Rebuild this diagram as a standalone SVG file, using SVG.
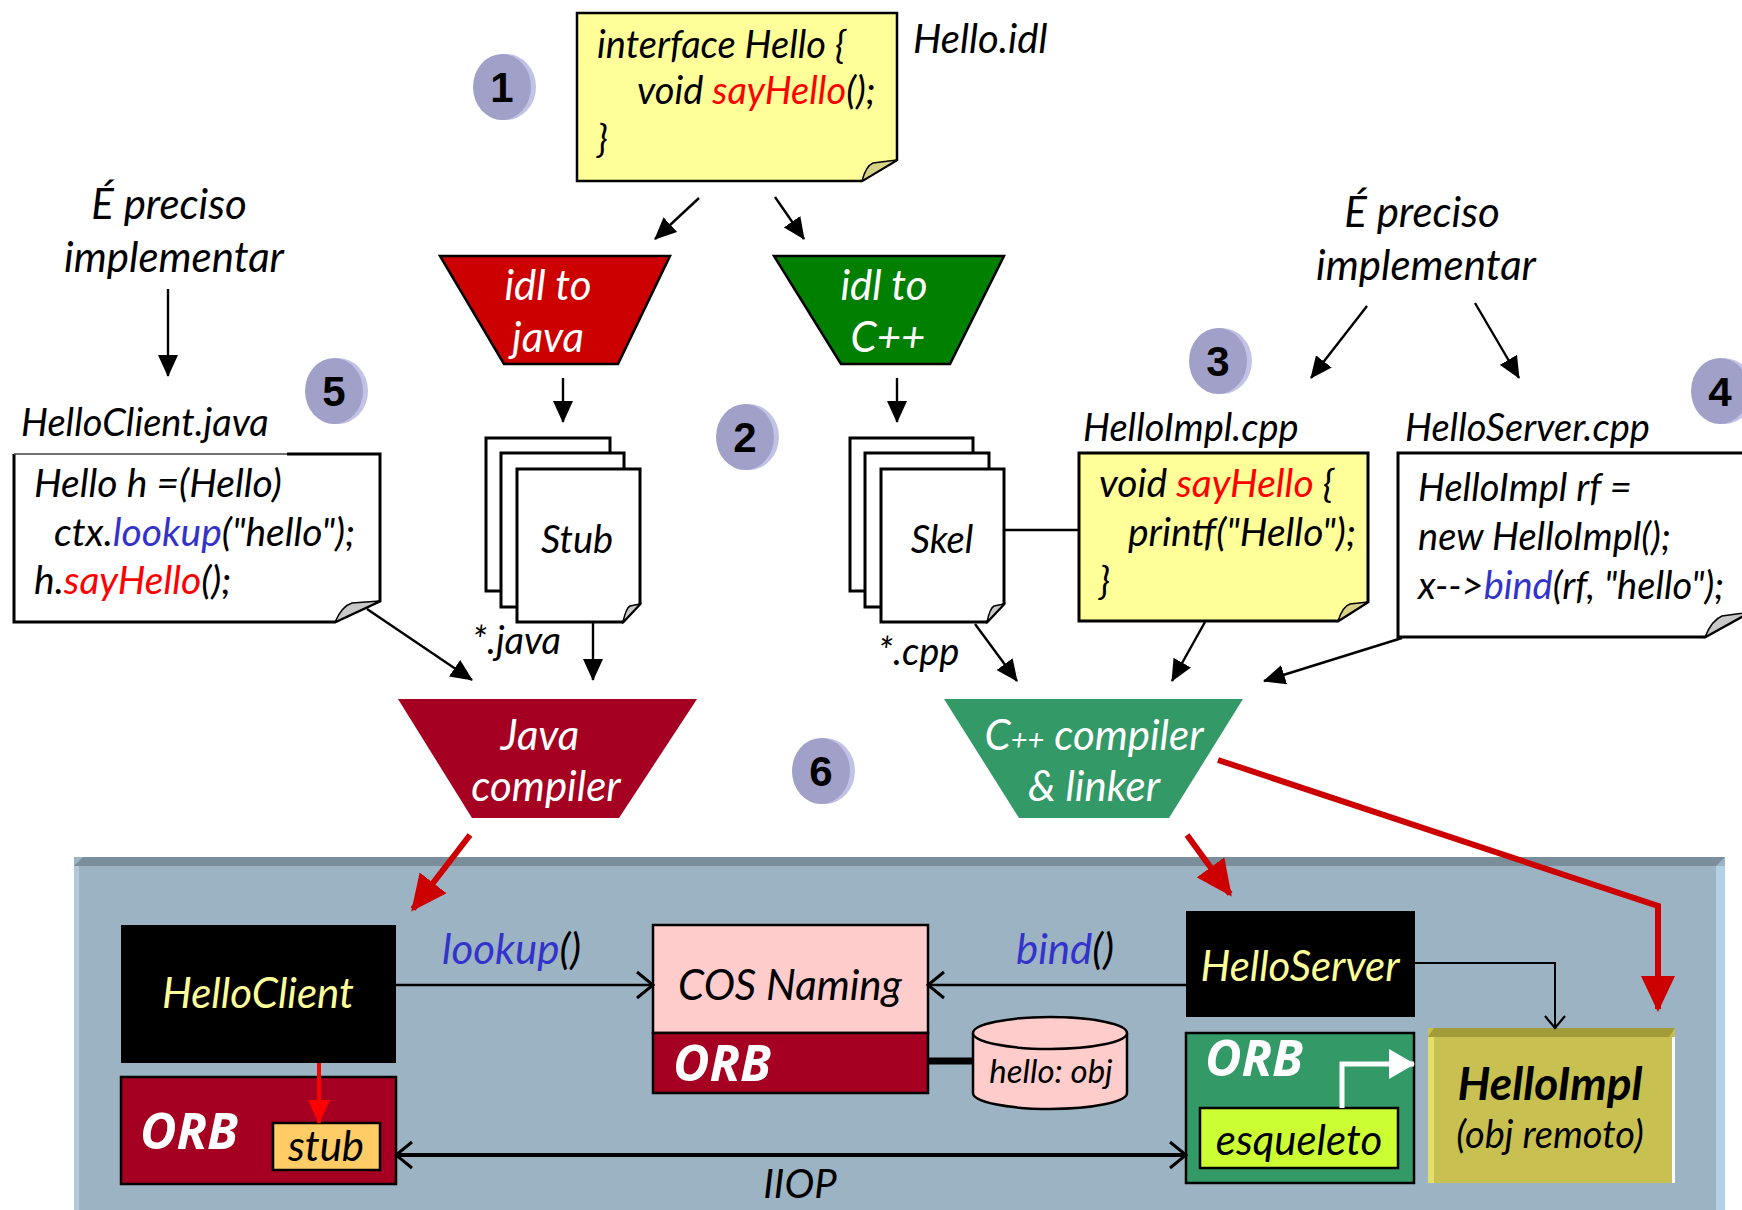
<svg xmlns="http://www.w3.org/2000/svg" width="1742" height="1210" viewBox="0 0 1742 1210">
<defs>
<style>
.t{font-family:Lato,"Open Sans","Liberation Sans",sans-serif;font-style:italic;font-size:38px;fill:#000}
.code{font-size:39px}
.lbl{font-size:38px}
.big{font-size:42px}
.mid{text-anchor:middle}
.w{fill:#fff}
.yl{fill:#ffff99}
.red{fill:#ff0000}
.blue{fill:#3333cc}
.orb{font-family:"Open Sans","DejaVu Sans",sans-serif;font-weight:bold;font-style:italic;font-size:50px;fill:#fff}
.num{font-family:"Liberation Sans",Arial,sans-serif;font-weight:bold;font-size:42px;fill:#000;text-anchor:middle}
.rim{fill:#c2c2e6}
.disc{fill:#a0a0c9}
.ln{stroke:#000;stroke-width:2.4;fill:none}
.rd{stroke:#cc0000;stroke-width:6;fill:none;stroke-linejoin:miter}
.page{fill:#fff;stroke:#000;stroke-width:3}
.fold{fill:#c8c8c8;stroke:#000;stroke-width:1.5}
.yfold{fill:#d8d286;stroke:#000;stroke-width:1.5}
</style>
<marker id="ah" markerUnits="userSpaceOnUse" viewBox="0 0 22 20" markerWidth="22" markerHeight="20" refX="21" refY="10" orient="auto"><path d="M0,0 L22,10 L0,20 Z" fill="#000"/></marker>
<marker id="oh" markerUnits="userSpaceOnUse" viewBox="-2 -2 20 30" markerWidth="20" markerHeight="30" refX="16" refY="13" orient="auto-start-reverse"><path d="M0,0 L16,13 L0,26" fill="none" stroke="#000" stroke-width="3"/></marker>
<marker id="oht" markerUnits="userSpaceOnUse" viewBox="-2 -2 16 24" markerWidth="16" markerHeight="24" refX="12" refY="10" orient="auto"><path d="M0,0 L12,10 L0,20" fill="none" stroke="#000" stroke-width="2.2"/></marker>
<marker id="rh" markerUnits="userSpaceOnUse" viewBox="0 0 36 34" markerWidth="36" markerHeight="34" refX="33" refY="17" orient="auto"><path d="M0,0 L36,17 L0,34 Z" fill="#cc0000"/></marker>
<marker id="rhs" markerUnits="userSpaceOnUse" viewBox="0 0 24 22" markerWidth="24" markerHeight="22" refX="23" refY="11" orient="auto"><path d="M0,0 L24,11 L0,22 Z" fill="#ff0000"/></marker>
<marker id="wh" markerUnits="userSpaceOnUse" viewBox="0 0 26 30" markerWidth="26" markerHeight="30" refX="25" refY="15" orient="auto"><path d="M0,0 L26,15 L0,30 Z" fill="#fff"/></marker>
</defs>

<rect width="1742" height="1210" fill="#fff"/>

<!-- runtime panel -->
<g id="runtime-panel">
<rect x="74" y="857" width="1651" height="353" fill="#9cb3c3"/>
<path d="M74,866 L83,857 H1725 L1716,866 Z" fill="#7b8e9b"/>
<rect x="74" y="866" width="5" height="344" fill="#b2c9d9"/>
<rect x="1716" y="866" width="9" height="344" fill="#b4d0e4"/>
</g>

<!-- IDL source -->
<g id="idl-note">
<path d="M577,13 H897 V160 L862,181 H577 Z" fill="#ffff99" stroke="#000" stroke-width="2.5"/>
<path d="M862,181 Q866,166 873,163 L897,160 Z" class="yfold"/>
<text class="t" x="597" y="58">interface Hello {</text>
<text class="t" x="637" y="104">void <tspan class="red">sayHello</tspan>();</text>
<text class="t" x="597" y="152">}</text>
<text class="t" x="913" y="53" style="font-size:40px">Hello.idl</text>
</g>

<!-- step badges -->
<g id="step1" transform="translate(502,87)"><ellipse class="rim" cx="4" rx="30" ry="33"/><ellipse class="disc" rx="29" ry="33"/><text class="num" y="15">1</text></g>
<g id="step2" transform="translate(745,437)"><ellipse class="rim" cx="4" rx="30" ry="33"/><ellipse class="disc" rx="29" ry="33"/><text class="num" y="15">2</text></g>
<g id="step3" transform="translate(1218,361)"><ellipse class="rim" cx="4" rx="30" ry="33"/><ellipse class="disc" rx="29" ry="33"/><text class="num" y="15">3</text></g>
<g id="step4" transform="translate(1720,391)"><ellipse class="rim" cx="4" rx="30" ry="33"/><ellipse class="disc" rx="29" ry="33"/><text class="num" y="15" style="font-family:'Liberation Mono',monospace">4</text></g>
<g id="step5" transform="translate(334,391)"><ellipse class="rim" cx="4" rx="30" ry="33"/><ellipse class="disc" rx="29" ry="33"/><text class="num" y="15">5</text></g>
<g id="step6" transform="translate(821,771)"><ellipse class="rim" cx="4" rx="30" ry="33"/><ellipse class="disc" rx="29" ry="33"/><text class="num" y="15">6</text></g>

<!-- IDL compilers -->
<g id="idl2java">
<path d="M440,256 H670 L618,364 H504 Z" fill="#cc0000" stroke="#000" stroke-width="2.5"/>
<text class="t big w mid" x="548" y="300">idl to</text>
<text class="t big w mid" x="548" y="352">java</text>
</g>
<g id="idl2cpp">
<path d="M774,256 H1004 L950,364 H841 Z" fill="#007f00" stroke="#000" stroke-width="2.5"/>
<text class="t big w mid" x="884" y="300">idl to</text>
<text class="t big w mid" x="888" y="352">C++</text>
</g>

<!-- generated stubs -->
<g id="stub-files">
<rect class="page" x="486" y="438" width="124" height="153"/>
<rect class="page" x="501" y="453" width="123" height="154"/>
<path class="page" d="M517,469 H640 V604 L623,622 H517 Z"/>
<path class="fold" d="M623,622 Q626,608 630,606 L640,604 Z"/>
<text class="t mid" x="577" y="553">Stub</text>
<text class="t" x="472" y="654">*.java</text>
</g>
<g id="skel-files">
<rect class="page" x="850" y="438" width="123" height="153"/>
<rect class="page" x="865" y="453" width="124" height="154"/>
<path class="page" d="M881,469 H1004 V604 L987,622 H881 Z"/>
<path class="fold" d="M987,622 Q990,608 994,606 L1004,604 Z"/>
<text class="t mid" x="942" y="553">Skel</text>
<text class="t" x="878" y="665">*.cpp</text>
</g>

<!-- client source -->
<g id="client-note">
<text class="t big mid" x="169" y="219">É preciso</text>
<text class="t big mid" x="174" y="272">implementar</text>
<text class="t lbl" x="21" y="436">HelloClient.java</text>
<path d="M14,454 H380 V601 L335,622 H14 Z" fill="#fff"/>
<polyline points="287,454 380,454 380,601 335,622 14,622 14,454" fill="none" stroke="#000" stroke-width="3"/>
<line x1="14" y1="454" x2="287" y2="454" stroke="#444" stroke-width="1.5"/>
<path class="fold" d="M335,622 Q342,606 352,603 L380,601 Z"/>
<text class="t code" x="34" y="497">Hello h =(Hello)</text>
<text class="t code" x="54" y="546">ctx.<tspan class="blue">lookup</tspan>("hello");</text>
<text class="t code" x="34" y="594">h.<tspan class="red">sayHello</tspan>();</text>
</g>

<!-- server sources -->
<g id="impl-note">
<text class="t big mid" x="1422" y="227">É preciso</text>
<text class="t big mid" x="1426" y="280">implementar</text>
<text class="t lbl" x="1083" y="441">HelloImpl.cpp</text>
<path d="M1079,453 H1368 V602 L1338,621 H1079 Z" fill="#ffff99" stroke="#000" stroke-width="3"/>
<path class="yfold" d="M1338,621 Q1343,606 1350,604 L1368,602 Z"/>
<text class="t code" x="1099" y="497">void <tspan class="red">sayHello</tspan> {</text>
<text class="t code" x="1128" y="546">printf("Hello");</text>
<text class="t code" x="1099" y="594">}</text>
</g>
<g id="server-note">
<text class="t lbl" x="1405" y="441">HelloServer.cpp</text>
<path d="M1398,453 H1750 V612 L1705,637 H1398 Z" fill="#fff" stroke="#000" stroke-width="3"/>
<path class="fold" d="M1705,637 Q1712,620 1722,616 L1750,612 Z"/>
<text class="t" x="1418" y="501">HelloImpl rf =</text>
<text class="t" x="1418" y="550">new HelloImpl();</text>
<text class="t" x="1418" y="599">x--&gt;<tspan class="blue">bind</tspan>(rf, "hello");</text>
</g>

<!-- language compilers -->
<g id="java-compiler">
<path d="M398,699 H697 L619,818 H472 Z" fill="#a50021"/>
<text class="t big w mid" x="540" y="750">Java</text>
<text class="t big w mid" x="546" y="801">compiler</text>
</g>
<g id="cpp-compiler">
<path d="M944,699 H1243 L1169,818 H1019 Z" fill="#339966"/>
<text class="t big w mid" x="1094" y="750">C<tspan style="font-size:29px">++</tspan> compiler</text>
<text class="t big w mid" x="1094" y="801">&amp; linker</text>
</g>

<!-- client process -->
<g id="hello-client">
<rect x="121" y="925" width="275" height="138" fill="#000"/>
<text class="t big yl mid" x="258" y="1008">HelloClient</text>
</g>
<g id="client-orb">
<rect x="121" y="1077" width="275" height="107" fill="#a50021" stroke="#000" stroke-width="2.5"/>
<text class="orb" x="140" y="1149">ORB</text>
<rect x="273" y="1123" width="107" height="47" fill="#ffcc66" stroke="#000" stroke-width="2.5"/>
<text class="t big mid" x="326" y="1161">stub</text>
</g>

<!-- naming service -->
<g id="cos-naming">
<rect x="653" y="925" width="275" height="108" fill="#ffcccc" stroke="#000" stroke-width="2.5"/>
<text class="t big mid" x="790" y="1000">COS Naming</text>
<rect x="653" y="1033" width="275" height="60" fill="#a50021" stroke="#000" stroke-width="2.5"/>
<text class="orb" x="673" y="1081">ORB</text>
</g>
<g id="naming-store">
<path d="M973,1033 V1093 A77,16 0 0 0 1127,1093 V1033" fill="#ffcccc" stroke="#000" stroke-width="2.5"/>
<ellipse cx="1050" cy="1033" rx="77" ry="16" fill="#ffcccc" stroke="#000" stroke-width="2.5"/>
<text class="t mid" x="1051" y="1083" style="font-size:33px">hello: obj</text>
</g>

<!-- server process -->
<g id="hello-server">
<rect x="1186" y="911" width="229" height="106" fill="#000"/>
<text class="t big yl mid" x="1300" y="981">HelloServer</text>
</g>
<g id="server-orb">
<rect x="1186" y="1033" width="228" height="150" fill="#339966" stroke="#000" stroke-width="2.5"/>
<text class="orb" x="1205" y="1076">ORB</text>
<rect x="1200" y="1108" width="198" height="60" fill="#ccff33" stroke="#000" stroke-width="2.5"/>
<text class="t big mid" x="1299" y="1155">esqueleto</text>
</g>
<g id="hello-impl">
<rect x="1428" y="1028" width="247" height="155" fill="#c8c050"/>
<path d="M1428,1037 L1434,1028 H1675 L1669,1037 Z" fill="#a19b3a"/>
<rect x="1428" y="1037" width="6" height="146" fill="#e4de6a"/>
<rect x="1672" y="1037" width="3" height="146" fill="#fff"/>
<text class="t mid" x="1550" y="1100" style="font-size:46px;font-weight:bold">HelloImpl</text>
<text class="t mid" x="1550" y="1148" style="font-size:38px">(obj remoto)</text>
</g>

<!-- connectors -->
<g id="connectors">
<line class="ln" x1="699" y1="198" x2="655" y2="239" marker-end="url(#ah)"/>
<line class="ln" x1="775" y1="197" x2="804" y2="239" marker-end="url(#ah)"/>
<line class="ln" x1="563" y1="378" x2="563" y2="422" marker-end="url(#ah)"/>
<line class="ln" x1="897" y1="378" x2="897" y2="422" marker-end="url(#ah)"/>
<line class="ln" x1="168" y1="289" x2="168" y2="376" marker-end="url(#ah)"/>
<line class="ln" x1="1367" y1="306" x2="1311" y2="378" marker-end="url(#ah)"/>
<line class="ln" x1="1475" y1="303" x2="1519" y2="378" marker-end="url(#ah)"/>
<line class="ln" x1="1004" y1="530" x2="1079" y2="530"/>
<line class="ln" x1="367" y1="609" x2="472" y2="680" marker-end="url(#ah)"/>
<line class="ln" x1="593" y1="622" x2="593" y2="680" marker-end="url(#ah)"/>
<line class="ln" x1="975" y1="624" x2="1017" y2="681" marker-end="url(#ah)"/>
<line class="ln" x1="1205" y1="622" x2="1172" y2="681" marker-end="url(#ah)"/>
<line class="ln" x1="1402" y1="638" x2="1264" y2="681" marker-end="url(#ah)"/>

<line class="rd" x1="470" y1="835" x2="413" y2="909" marker-end="url(#rh)"/>
<line class="rd" x1="1187" y1="835" x2="1230" y2="894" marker-end="url(#rh)"/>
<polyline class="rd" points="1218,760 1658,906 1658,1009" marker-end="url(#rh)"/>
<line x1="319" y1="1063" x2="319" y2="1123" stroke="#ff0000" stroke-width="4" marker-end="url(#rhs)"/>

<line x1="396" y1="985" x2="653" y2="985" stroke="#000" stroke-width="2.5" marker-end="url(#oh)"/>
<text class="t big" x="442" y="964"><tspan class="blue">lookup</tspan>()</text>
<line x1="1186" y1="985" x2="928" y2="985" stroke="#000" stroke-width="2.5" marker-end="url(#oh)"/>
<text class="t big" x="1016" y="964"><tspan class="blue">bind</tspan>()</text>
<line x1="928" y1="1061" x2="973" y2="1061" stroke="#000" stroke-width="7"/>
<polyline points="1415,963 1555,963 1555,1028" fill="none" stroke="#000" stroke-width="2" marker-end="url(#oht)"/>
<polyline points="1342,1108 1342,1064 1414,1064" fill="none" stroke="#fff" stroke-width="5" marker-end="url(#wh)"/>
<line x1="396" y1="1155" x2="1186" y2="1155" stroke="#000" stroke-width="4" marker-start="url(#oh)" marker-end="url(#oh)"/>
<text class="t mid" x="800" y="1198" style="font-size:40px">IIOP</text>
</g>
</svg>
